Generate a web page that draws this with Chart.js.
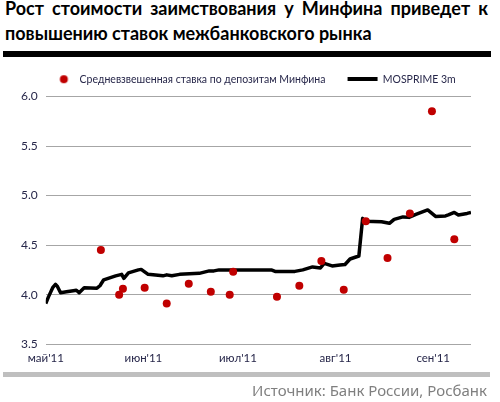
<!DOCTYPE html>
<html>
<head>
<meta charset="utf-8">
<script src="https://cdn.jsdelivr.net/npm/chart.js@4.4.0/dist/chart.umd.min.js"></script>
<style>
body{margin:0;width:500px;height:402px;background:#fff;position:relative;overflow:hidden;font-family:Lato,sans-serif}
.titulo{position:absolute;left:5px;width:483px;font-weight:bold;font-size:18px;line-height:25px;color:#000;white-space:nowrap}
#t1{top:-4px;display:flex;justify-content:space-between}
#t2{top:21px}
#barra{position:absolute;left:3px;top:51px;width:488px;height:6px;background:#000}
#barra2{position:absolute;left:3px;top:372px;width:487px;height:5px;background:#bfbfbf}
#fuente{position:absolute;right:13px;top:380px;font-family:'Noto Sans',sans-serif;font-size:15px;line-height:20px;color:#7f7f7f}
#caja{position:absolute;left:0;top:52px;width:500px;height:326px}
</style>
</head>
<body>
<div class="titulo" id="t1"><span>Рост</span><span>стоимости</span><span>заимствования</span><span>у</span><span>Минфина</span><span>приведет</span><span>к</span></div>
<div class="titulo" id="t2">повышению ставок межбанковского рынка</div>
<div id="caja"><canvas id="grafico"></canvas></div>
<div id="barra"></div>
<div id="barra2"></div>
<div id="fuente">Источник: Банк России, Росбанк</div>
<script>
// dias contados desde el 1 de mayo 2011
var mesTicks = [0, 31, 61, 92, 123];
var mesLabels = ["май'11", "июн'11", "июл'11", "авг'11", "сен'11"];
var yTicks = [3.5, 4.0, 4.5, 5.0, 5.5, 6.0];

var serieDepo = 'Средневзвешенная ставка по депозитам Минфина';
var depoDias = [17.5, 23.3, 24.5, 31.4, 38.4, 45.4, 52.4, 58.4, 59.5, 73.4, 80.5, 87.5, 94.6, 101.6, 108.5, 115.6, 122.6, 129.7];
var depoTasa = [4.45, 4.00, 4.06, 4.07, 3.91, 4.11, 4.03, 4.00, 4.23, 3.98, 4.09, 4.34, 4.05, 4.74, 4.37, 4.82, 5.85, 4.56];

var serieMos = 'MOSPRIME 3m';
var mosDias = [0, 0.9, 2.2, 3.1, 3.75, 4.7, 6.6, 8.75, 9.7, 10.6, 12.2, 16.25, 17.2, 18.4, 22.2, 24.1, 24.8, 26.25, 29.4, 30.3,
    32.5, 37.2, 38.4, 40, 42.5, 48.75, 51.9, 53.4, 55, 71.6, 72.8, 79.1, 81.6, 84.7, 87.2, 88.4, 90.9, 93.4, 95, 96.6,
    99.4, 100.6, 101.25, 106.6, 109.1, 110.6, 113.4, 115.3, 117.5, 121.25, 123.75, 126.9, 127.8, 129.7, 131, 133.75, 135];
var mosTasa = [3.91, 3.98, 4.07, 4.105, 4.08, 4.02, 4.03, 4.04, 4.045, 4.02, 4.07, 4.065, 4.09, 4.15, 4.19, 4.205, 4.165, 4.22, 4.25, 4.255,
    4.205, 4.19, 4.20, 4.19, 4.205, 4.215, 4.24, 4.24, 4.25, 4.25, 4.235, 4.235, 4.25, 4.28, 4.27, 4.315, 4.29, 4.30, 4.305, 4.36,
    4.39, 4.77, 4.74, 4.735, 4.72, 4.76, 4.785, 4.78, 4.81, 4.855, 4.79, 4.795, 4.805, 4.83, 4.805, 4.82, 4.83];

var colorTexto = '#27274a';

// iconos de la leyenda
function iconoPunto(){
    var c = document.createElement('canvas');
    c.width = 40; c.height = 10;
    var g = c.getContext('2d');
    g.fillStyle = '#c00000';
    g.beginPath(); g.arc(24.5, 5, 4, 0, Math.PI * 2); g.fill();
    return c;
}
function iconoLinea(){
    var c = document.createElement('canvas');
    c.width = 40; c.height = 4;
    var g = c.getContext('2d');
    g.fillStyle = '#000';
    g.fillRect(5, 0, 30, 4);
    return c;
}
var icono1 = iconoPunto();
var icono2 = iconoLinea();

// la leyenda un poco a la derecha y con 2px mas de alto
var ajusteLeyenda = {
    id: 'ajusteLeyenda',
    beforeLayout: function(chart){
        var lg = chart.legend;
        if (lg && !lg._parcheado){
            var fit = lg.fit;
            lg.fit = function(){ fit.call(this); this.height += 2; };
            lg._parcheado = true;
        }
    },
    afterLayout: function(chart){
        chart.legend.left += 8;
        chart.legend.right += 8;
    }
};

var puntosDepo = depoDias.map(function(d, i){ return {x: d, y: depoTasa[i]}; });
var puntosMos = mosDias.map(function(d, i){ return {x: d, y: mosTasa[i]}; });

new Chart(document.getElementById('grafico'), {
    type: 'line',
    data: {
        datasets: [
            {
                label: serieDepo,
                data: puntosDepo,
                showLine: false,
                pointRadius: 4,
                pointBackgroundColor: '#c00000',
                pointBorderWidth: 0,
                borderColor: '#c00000'
            },
            {
                label: serieMos,
                data: puntosMos,
                borderColor: '#000',
                borderWidth: 3.5,
                pointRadius: 0,
                tension: 0,
                borderJoinStyle: 'round'
            }
        ]
    },
    plugins: [ajusteLeyenda],
    options: {
        responsive: true,
        maintainAspectRatio: false,
        animation: false,
        layout: {padding: {left: 13, right: 29, top: 0, bottom: 6}},
        plugins: {
            tooltip: {enabled: false},
            legend: {
                position: 'top',
                labels: {
                    usePointStyle: true,
                    pointStyleWidth: 30,
                    padding: 22,
                    color: colorTexto,
                    font: {family: 'Lato', size: 10.5},
                    generateLabels: function(chart){
                        var items = Chart.defaults.plugins.legend.labels.generateLabels(chart);
                        items[0].pointStyle = icono1;
                        items[1].pointStyle = icono2;
                        return items;
                    }
                }
            }
        },
        scales: {
            x: {
                type: 'linear',
                min: 0,
                max: 135,
                grid: {display: false, drawTicks: false},
                border: {display: false},
                afterBuildTicks: function(scale){
                    scale.ticks = mesTicks.map(function(v){ return {value: v}; });
                },
                ticks: {
                    autoSkip: false,
                    maxRotation: 0,
                    padding: 7,
                    color: colorTexto,
                    font: {family: 'Lato', size: 11.5},
                    callback: function(v){ return mesLabels[mesTicks.indexOf(v)]; }
                }
            },
            y: {
                min: 3.5,
                max: 6.0,
                grid: {color: '#a6a6a6', lineWidth: 1, drawTicks: false},
                border: {display: false},
                afterBuildTicks: function(scale){
                    scale.ticks = yTicks.map(function(v){ return {value: v}; });
                },
                ticks: {
                    padding: 8,
                    color: colorTexto,
                    font: {family: 'Lato', size: 12},
                    callback: function(v){ return v.toFixed(1); }
                }
            }
        }
    }
});
</script>
</body>
</html>
